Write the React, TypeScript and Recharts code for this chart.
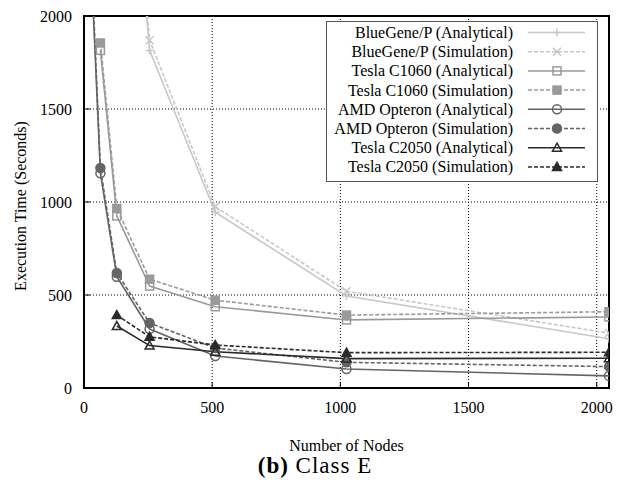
import { CartesianGrid, Label, Legend, Line, LineChart, ReferenceArea, XAxis, YAxis } from 'recharts';

const FONT = '"Liberation Serif", "Times New Roman", serif';

// node counts shared by every series, null where a series has no point
const nodeCounts = [32, 64, 128, 256, 512, 1024, 2048];

const blueGeneAnalytical = [null, null, 3800, 1815, 945, 495, 265];
const blueGeneSimulation = [null, null, 3900, 1870, 975, 520, 295];
const c1060Analytical = [null, 1815, 925, 548, 437, 366, 382];
const c1060Simulation = [null, 1855, 965, 585, 472, 392, 410];
const amdAnalytical = [2150, 1155, 598, 317, 172, 102, 65];
const amdSimulation = [2200, 1183, 618, 349, 215, 138, 115];
const c2050Analytical = [null, null, 333, 228, 195, 158, 160];
const c2050Simulation = [null, null, 392, 275, 231, 190, 192];

const xTicks = [0, 500, 1000, 1500, 2000];
const yTicks = [0, 500, 1000, 1500, 2000];

type MarkerKind = 'plus' | 'cross' | 'square' | 'squareFilled' | 'circle' | 'circleFilled' | 'triangle' | 'triangleFilled';

type Series = {
  name: string;
  values: (number | null)[];
  color: string;
  dashed: boolean;
  marker: MarkerKind;
};

const series: Series[] = [
  { name: 'BlueGene/P (Analytical)', values: blueGeneAnalytical, color: '#c8c8c8', dashed: false, marker: 'plus' },
  { name: 'BlueGene/P (Simulation)', values: blueGeneSimulation, color: '#c8c8c8', dashed: true, marker: 'cross' },
  { name: 'Tesla C1060 (Analytical)', values: c1060Analytical, color: '#9a9a9a', dashed: false, marker: 'square' },
  { name: 'Tesla C1060 (Simulation)', values: c1060Simulation, color: '#9a9a9a', dashed: true, marker: 'squareFilled' },
  { name: 'AMD Opteron (Analytical)', values: amdAnalytical, color: '#646464', dashed: false, marker: 'circle' },
  { name: 'AMD Opteron (Simulation)', values: amdSimulation, color: '#646464', dashed: true, marker: 'circleFilled' },
  { name: 'Tesla C2050 (Analytical)', values: c2050Analytical, color: '#2a2a2a', dashed: false, marker: 'triangle' },
  { name: 'Tesla C2050 (Simulation)', values: c2050Simulation, color: '#2a2a2a', dashed: true, marker: 'triangleFilled' },
];

function toPoints(values: (number | null)[]) {
  return nodeCounts
    .map((n, i) => ({ n, t: values[i] }))
    .filter((p) => p.t !== null);
}

function Marker({ kind, x, y, color }: { kind: MarkerKind; x: number; y: number; color: string }) {
  const s = 4;
  switch (kind) {
    case 'plus':
      return <path d={`M${x - s},${y}H${x + s}M${x},${y - s}V${y + s}`} stroke={color} strokeWidth={1.5} fill="none" />;
    case 'cross':
      return <path d={`M${x - s},${y - s}L${x + s},${y + s}M${x - s},${y + s}L${x + s},${y - s}`} stroke={color} strokeWidth={1.5} fill="none" />;
    case 'square':
    case 'squareFilled':
      return (
        <rect
          x={x - s}
          y={y - s}
          width={s * 2}
          height={s * 2}
          stroke={color}
          strokeWidth={1.5}
          fill={kind === 'squareFilled' ? color : 'none'}
        />
      );
    case 'circle':
    case 'circleFilled':
      return <circle cx={x} cy={y} r={4.5} stroke={color} strokeWidth={1.5} fill={kind === 'circleFilled' ? color : 'none'} />;
    default:
      return (
        <path
          d={`M${x},${y - 4.5}L${x + 4.5},${y + 3.5}L${x - 4.5},${y + 3.5}Z`}
          stroke={color}
          strokeWidth={1.5}
          fill={kind === 'triangleFilled' ? color : 'none'}
        />
      );
  }
}

function makeDot(s: Series) {
  return (props: any) => {
    const { cx, cy, index } = props;
    if (cx == null || cy == null) return <g key={`d-${index}`} />;
    return (
      <g key={`d-${index}`}>
        <Marker kind={s.marker} x={cx} y={cy} color={s.color} />
      </g>
    );
  };
}

const renderLegend = () => (
  <svg width={272} height={161} style={{ display: 'block' }}>
    <rect x={0.5} y={0.5} width={271} height={160} fill="#fff" stroke="#555" />
    {series.map((s, i) => {
      const y = 11.5 + i * 19.2;
      return (
        <g key={s.name}>
          <text x={187} y={y} textAnchor="end" dominantBaseline="central" fontFamily={FONT} fontSize={16} fill="#000">
            {s.name}
          </text>
          <line x1={202} x2={259} y1={y} y2={y} stroke={s.color} strokeWidth={1.5} strokeDasharray={s.dashed ? '4 2' : undefined} />
          <Marker kind={s.marker} x={231} y={y} color={s.color} />
        </g>
      );
    })}
  </svg>
);

const tickStyle = { fill: '#000', fontSize: 16, fontFamily: FONT };

export default function App() {
  return (
    <div style={{ position: 'relative', width: 632, height: 480, background: '#fff' }}>
      <style>{'body{margin:0}'}</style>
      <LineChart width={632} height={480} margin={{ top: 15, right: 22, bottom: 62, left: 0 }}>
        <CartesianGrid stroke="#000" strokeDasharray="1 2" strokeWidth={1} />
        <XAxis
          type="number"
          dataKey="n"
          domain={[0, 2048]}
          ticks={xTicks}
          allowDataOverflow
          height={30}
          tickSize={-6}
          tickMargin={20}
          axisLine={{ stroke: '#000', strokeWidth: 2 }}
          tickLine={{ stroke: '#000' }}
          tick={tickStyle}
        >
          <Label value="Number of Nodes" position="bottom" offset={22} style={{ fill: '#000', fontSize: 16, fontFamily: FONT }} />
        </XAxis>
        <XAxis
          xAxisId="top"
          orientation="top"
          type="number"
          dataKey="n"
          domain={[0, 2048]}
          ticks={xTicks}
          height={1}
          tickSize={-6}
          axisLine={false}
          tickLine={{ stroke: '#000' }}
          tick={false}
        />
        <YAxis
          type="number"
          domain={[0, 2000]}
          ticks={yTicks}
          allowDataOverflow
          width={84}
          tickSize={-6}
          tickMargin={18}
          axisLine={{ stroke: '#000', strokeWidth: 2 }}
          tickLine={{ stroke: '#000' }}
          tick={tickStyle}
        >
          <Label
            value="Execution Time (Seconds)"
            angle={-90}
            position="insideLeft"
            offset={20}
            dy={4}
            style={{ textAnchor: 'middle', fill: '#000', fontSize: 16, fontFamily: FONT }}
          />
        </YAxis>
        <YAxis
          yAxisId="right"
          orientation="right"
          type="number"
          domain={[0, 2000]}
          ticks={yTicks}
          width={1}
          tickSize={-6}
          axisLine={false}
          tickLine={{ stroke: '#000' }}
          tick={false}
        />
        <ReferenceArea x1={0} x2={2048} y1={0} y2={2000} fill="none" stroke="#000" strokeWidth={2} />
        {series.map((s) => (
          <Line
            key={s.name}
            data={toPoints(s.values)}
            dataKey="t"
            name={s.name}
            type="linear"
            stroke={s.color}
            strokeWidth={1.6}
            strokeDasharray={s.dashed ? '4 2' : undefined}
            dot={makeDot(s)}
            activeDot={false}
            isAnimationActive={false}
          />
        ))}
        <Legend
          layout="horizontal"
          verticalAlign="middle"
          align="center"
          content={renderLegend}
          wrapperStyle={{ left: 326, top: 21, width: 272, height: 161 }}
        />
      </LineChart>
      <div
        style={{
          position: 'absolute',
          left: 0,
          width: 630,
          top: 456,
          textAlign: 'center',
          fontFamily: FONT,
          fontSize: 23,
          letterSpacing: 1,
          lineHeight: '20px',
          color: '#000',
        }}
      >
        <b>(b)</b> Class E
      </div>
    </div>
  );
}
